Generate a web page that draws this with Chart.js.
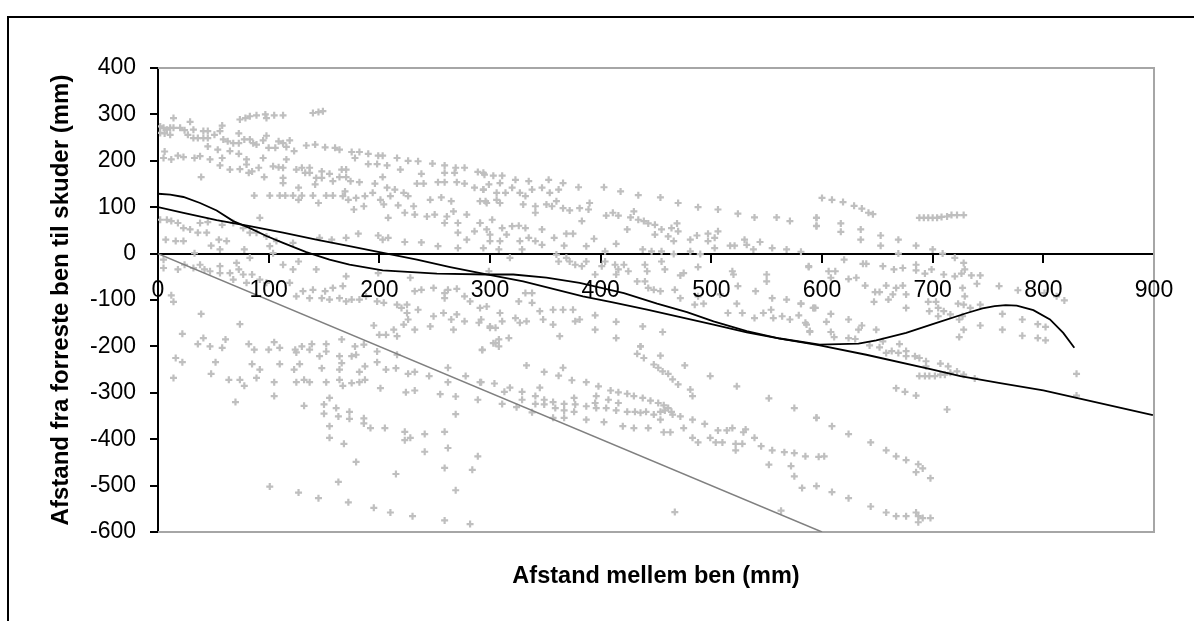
<!DOCTYPE html>
<html>
<head>
<meta charset="utf-8">
<style>
html,body{margin:0;padding:0;background:#fff;}
#wrap{position:relative;width:1194px;height:621px;overflow:hidden;}
#frame{position:absolute;left:7px;top:16px;width:1300px;height:800px;border:2px solid #000;box-sizing:border-box;}
canvas{position:absolute;left:0;top:0;}
</style>
<script src="https://cdn.jsdelivr.net/npm/chart.js@4/dist/chart.umd.min.js"></script>
</head>
<body>
<div id="wrap"><div id="frame"></div><canvas id="c" width="1194" height="621"></canvas></div>
<script>
const xTickLabels=[0,100,200,300,400,500,600,700,800,900];
const yTickLabels=[-600,-500,-400,-300,-200,-100,0,100,200,300,400];
const xAxisName="Afstand mellem ben (mm)";
const yAxisName="Afstand fra forreste ben til skuder (mm)";

const diagonalLine=[[0,0],[600,-600]];
const curveLine=[[0,129],[11,127],[23,122],[38,109],[53,93],[68,70],[83,55],[98,38],[113,23],[134,3],[155,-13],[173,-24],[203,-36],[252,-43],[297,-45],[321,-45],[351,-52],[381,-63],[421,-85],[451,-108],[478,-126],[502,-146],[532,-167],[562,-183],[598,-196],[633,-194],[649,-187],[676,-171],[700,-152],[731,-128],[745,-118],[756,-113],[766,-111],[776,-112],[791,-122],[806,-142],[818,-171],[828,-203]];
const straightLine=[[0,100],[23,88],[53,72],[83,59],[113,45],[143,30],[173,16],[200,3],[234,-13],[264,-29],[297,-45],[330,-60],[384,-92],[411,-105],[442,-121],[472,-137],[502,-153],[532,-170],[562,-183],[598,-198],[640,-218],[700,-250],[725,-264],[761,-279],[800,-295],[851,-322],[899,-348]];

const upperLeftPoints=[[14,292],[29,284],[58,276],[2,274],[5,271],[8,267],[11,271],[14,271],[2,260],[6,259],[11,256],[20,271],[24,266],[32,267],[27,256],[32,249],[36,249],[41,264],[45,264],[41,249],[45,249],[45,231],[51,256],[56,264],[54,224],[59,246],[63,242],[68,238],[73,259],[73,238],[78,246],[83,246],[86,238],[89,235],[98,254],[95,244],[100,228],[106,228],[109,242],[113,238],[119,244],[116,230],[123,221],[134,233],[142,235],[151,229],[160,228],[164,224],[175,219],[182,219],[190,215],[199,211],[203,211],[216,206],[226,200],[235,199],[248,194],[259,190],[269,185],[277,185],[289,176],[295,170],[74,289],[79,292],[83,296],[89,298],[97,300],[98,292],[105,298],[113,298],[140,303],[145,305],[149,307],[6,220],[5,206],[12,203],[18,211],[23,208],[33,206],[38,210],[47,203],[58,206],[56,190],[65,181],[65,221],[74,182],[73,215],[80,203],[80,192],[82,174],[91,185],[85,177],[39,165],[96,165],[95,206],[104,188],[109,186],[113,185],[116,203],[113,163],[113,152],[127,142],[125,181],[130,185],[133,174],[137,185],[137,174],[142,149],[148,177],[143,163],[148,163],[155,172],[158,156],[166,181],[170,181],[164,165],[170,165],[174,156],[182,154],[196,151],[203,165],[207,142],[178,206],[198,193],[190,193],[207,190],[219,181],[238,172],[234,151],[240,151],[253,154],[259,154],[259,174],[268,174],[270,154],[277,151],[286,142],[294,138],[87,125],[101,125],[110,125],[115,125],[122,125],[130,125],[127,116],[140,125],[145,109],[152,125],[158,125],[169,134],[167,124],[172,116],[179,120],[177,95],[186,102],[187,124],[194,131],[201,116],[204,106],[208,77],[210,124],[214,138],[222,131],[226,124],[217,104],[223,88],[231,102],[232,84],[243,80],[250,84],[246,116],[256,121],[265,113],[261,80],[259,66],[267,91],[279,84],[271,66],[271,45],[286,48],[291,66],[297,109],[291,113],[279,30],[2,73],[8,73],[12,70],[18,66],[23,55],[29,52],[38,66],[45,68],[58,62],[36,45],[44,45],[7,30],[16,27],[23,27],[55,30],[62,27],[48,17],[56,9],[68,66],[77,55],[83,45],[89,45],[92,77],[98,37],[107,27],[101,16],[78,9],[83,-9],[104,1],[122,23],[146,34],[157,30],[170,34],[181,43],[199,39],[208,34],[203,30],[223,25],[238,24],[253,16],[271,12],[294,12],[33,1]];

const lowerLeftPoints=[[5,-13],[5,-31],[18,-34],[24,-24],[32,-31],[38,-24],[42,-34],[47,-38],[56,-27],[56,-42],[65,-42],[71,-20],[73,-34],[68,-56],[77,-45],[85,-45],[80,-63],[92,-56],[98,-63],[113,-24],[127,-17],[122,-34],[143,-34],[170,-49],[167,-70],[199,-42],[228,-52],[119,-63],[125,-92],[131,-81],[140,-78],[137,-96],[151,-81],[158,-74],[148,-96],[155,-99],[164,-96],[170,-103],[175,-99],[182,-99],[188,-92],[198,-103],[204,-106],[216,-110],[220,-117],[225,-128],[226,-142],[222,-153],[213,-164],[206,-175],[200,-175],[216,-178],[225,-110],[232,-81],[238,-78],[235,-121],[249,-74],[259,-85],[262,-78],[270,-76],[258,-128],[270,-131],[265,-142],[277,-146],[290,-149],[292,-142],[249,-135],[246,-157],[232,-164],[267,-164],[300,-160],[291,-117],[282,-103],[277,-92],[259,-96],[12,-90],[14,-104],[39,-130],[74,-152],[22,-173],[41,-182],[36,-195],[47,-200],[58,-203],[61,-185],[82,-195],[87,-207],[100,-207],[105,-191],[110,-203],[124,-207],[125,-213],[130,-200],[139,-195],[137,-207],[152,-195],[152,-211],[146,-221],[166,-185],[178,-200],[186,-196],[179,-218],[175,-221],[164,-221],[166,-236],[198,-211],[198,-234],[187,-243],[182,-255],[164,-250],[148,-247],[128,-238],[123,-250],[110,-238],[92,-250],[85,-238],[52,-234],[48,-259],[16,-225],[22,-234],[14,-268],[64,-272],[74,-272],[78,-285],[89,-268],[105,-277],[105,-307],[70,-320],[125,-277],[132,-272],[137,-277],[152,-277],[164,-272],[167,-285],[175,-279],[182,-277],[187,-272],[201,-290],[155,-311],[132,-328],[150,-325],[150,-345],[161,-333],[163,-351],[173,-341],[173,-356],[186,-355],[186,-366],[192,-376],[205,-376],[155,-372],[155,-397],[168,-410],[223,-384],[223,-402],[228,-397],[241,-389],[241,-427],[259,-384],[262,-419],[259,-462],[289,-437],[284,-466],[215,-475],[179,-449],[163,-492],[101,-502],[127,-515],[145,-527],[172,-536],[195,-548],[210,-558],[230,-566],[259,-575],[282,-583],[269,-510],[269,-346],[269,-308],[255,-303],[289,-315],[232,-295],[224,-299],[206,-250],[215,-247],[226,-259],[232,-255],[245,-264],[262,-246],[262,-277],[278,-264],[293,-207],[291,-277],[216,-218],[195,-155]];

const middleUpperPoints=[[294,174],[303,168],[311,168],[309,152],[323,159],[335,156],[353,159],[366,152],[380,143],[403,143],[418,134],[434,126],[454,121],[470,109],[488,100],[506,95],[524,86],[539,78],[559,78],[571,70],[595,77],[299,149],[306,131],[314,131],[320,142],[327,131],[332,124],[338,138],[347,142],[354,131],[362,138],[294,138],[296,113],[306,116],[309,109],[330,106],[341,102],[341,88],[351,106],[356,102],[360,113],[366,98],[372,93],[381,98],[390,109],[389,95],[405,82],[411,88],[416,82],[427,78],[430,91],[434,73],[439,70],[443,65],[424,52],[449,62],[455,52],[464,55],[469,65],[470,48],[449,41],[461,37],[466,27],[481,30],[487,39],[497,43],[497,27],[503,34],[506,48],[503,12],[517,17],[521,17],[530,30],[532,19],[538,9],[544,25],[555,12],[568,9],[581,4],[595,59],[302,73],[383,70],[291,66],[297,52],[300,41],[300,27],[311,55],[308,9],[309,27],[315,41],[320,59],[326,60],[332,55],[327,27],[329,9],[335,34],[341,27],[347,52],[347,19],[358,34],[369,43],[375,43],[367,17],[394,32],[387,16],[414,21],[404,5],[438,9],[446,5],[455,5],[466,-1],[481,5],[490,-1],[318,-9],[360,-2],[362,-17],[369,-9],[372,-17],[377,-24],[383,-27],[387,-17],[404,-17],[401,-27],[395,-45],[413,-24],[416,-34],[421,-24],[425,-38],[414,-45],[433,-60],[440,-24],[442,-38],[455,-17],[458,-34],[440,-60],[443,-74],[448,-78],[454,-81],[467,-78],[472,-47],[488,-29],[475,-42],[472,-96],[485,-110],[493,-108],[488,-92],[508,-88],[519,-38],[520,-45],[524,-70],[523,-108],[515,-128],[528,-128],[540,-81],[550,-45],[550,-60],[555,-96],[568,-99],[581,-108],[539,-139],[547,-128],[554,-121],[556,-139],[564,-135],[571,-142],[579,-133],[585,-149],[589,-167],[592,-117],[588,-27],[594,-117],[299,-38],[326,-103],[332,-85],[338,-85],[338,-106],[345,-124],[348,-142],[357,-121],[357,-153],[366,-121],[375,-121],[377,-146],[381,-142],[395,-133],[395,-164],[414,-147],[438,-157],[456,-169],[414,-182],[436,-200],[363,-178],[305,-160],[311,-146],[300,-157],[323,-139],[327,-149],[333,-146],[309,-128],[297,-114],[308,-185],[317,-182],[303,-193]];

const middleLowerPoints=[[293,-208],[308,-200],[305,-193],[333,-241],[349,-255],[362,-263],[366,-246],[374,-273],[387,-277],[398,-286],[409,-295],[416,-299],[424,-302],[430,-307],[438,-311],[445,-317],[452,-322],[457,-327],[461,-333],[465,-347],[304,-280],[292,-277],[318,-289],[313,-298],[311,-324],[324,-331],[329,-298],[329,-315],[341,-307],[345,-289],[341,-324],[349,-315],[349,-325],[357,-320],[359,-333],[367,-324],[367,-338],[376,-311],[377,-325],[376,-341],[387,-329],[395,-322],[396,-333],[396,-307],[405,-333],[407,-315],[416,-322],[414,-338],[424,-341],[431,-341],[436,-343],[441,-341],[448,-347],[454,-341],[458,-338],[464,-341],[338,-342],[357,-354],[367,-354],[387,-358],[403,-363],[420,-372],[430,-376],[443,-376],[457,-385],[463,-385],[454,-358],[472,-351],[483,-358],[475,-376],[494,-367],[483,-397],[488,-407],[499,-397],[504,-407],[510,-407],[506,-381],[514,-381],[519,-376],[529,-385],[531,-379],[539,-397],[545,-415],[522,-410],[528,-410],[522,-424],[555,-424],[566,-428],[575,-430],[585,-437],[597,-438],[602,-437],[552,-455],[572,-458],[575,-480],[582,-505],[595,-501],[467,-557],[563,-554],[433,-216],[439,-225],[436,-200],[448,-239],[452,-246],[456,-254],[461,-259],[465,-271],[470,-282],[454,-220],[476,-241],[481,-293],[483,-307],[499,-264],[523,-286],[552,-312],[575,-333],[595,-354]];

const rightPoints=[[600,120],[609,116],[619,111],[629,103],[636,97],[642,88],[646,85],[595,77],[595,60],[617,65],[617,47],[635,52],[635,30],[653,39],[653,17],[669,30],[685,17],[700,9],[709,0],[669,0],[720,-9],[688,77],[692,77],[696,77],[700,77],[704,77],[708,79],[713,80],[717,83],[722,83],[728,83],[620,-13],[588,-29],[637,-22],[640,-22],[655,-27],[606,-38],[612,-38],[608,-52],[665,-34],[673,-31],[685,-24],[685,-36],[693,-43],[699,-34],[710,-45],[720,-49],[726,-43],[728,-20],[729,-34],[735,-47],[743,-47],[740,-65],[727,-74],[624,-55],[631,-52],[639,-69],[648,-83],[652,-83],[658,-69],[667,-74],[673,-69],[664,-88],[676,-88],[660,-99],[647,-104],[676,-117],[696,-104],[703,-104],[729,-92],[760,-70],[777,-79],[801,-85],[812,-92],[819,-101],[723,-108],[697,-124],[705,-117],[710,-124],[705,-135],[716,-131],[728,-110],[734,-117],[743,-110],[727,-135],[724,-142],[743,-155],[763,-130],[763,-164],[781,-142],[781,-177],[795,-152],[802,-158],[795,-182],[802,-187],[728,-164],[724,-180],[593,-117],[581,-108],[608,-130],[604,-147],[624,-142],[636,-155],[633,-164],[649,-164],[586,-153],[589,-169],[608,-169],[611,-180],[624,-182],[630,-184],[643,-198],[652,-202],[655,-189],[670,-195],[658,-214],[663,-210],[669,-214],[676,-210],[676,-221],[684,-221],[688,-225],[694,-232],[694,-243],[707,-237],[714,-243],[688,-264],[693,-264],[697,-264],[702,-264],[707,-261],[711,-261],[716,-257],[722,-254],[728,-261],[738,-269],[830,-259],[830,-306],[667,-290],[675,-298],[685,-306],[713,-336],[595,-354],[609,-372],[624,-389],[644,-407],[658,-424],[667,-437],[676,-445],[687,-454],[691,-463],[685,-471],[698,-484],[609,-514],[624,-527],[644,-545],[658,-558],[667,-566],[676,-566],[685,-558],[687,-566],[691,-570],[687,-579],[698,-570]];

const toXY=a=>a.map(p=>({x:p[0],y:p[1]}));
const tickFont={family:'"Liberation Sans"',size:23};
const xTitleFont={family:'"Liberation Sans"',size:23.5,weight:'bold'};
const yTitleFont={family:'"Liberation Sans"',size:24,weight:'bold'};

const plotFrame={id:'plotFrame',beforeDatasetsDraw(chart){
  const a=chart.chartArea,g=chart.ctx;
  g.save();g.strokeStyle='#a6a6a6';g.lineWidth=2;
  g.beginPath();g.moveTo(a.left,a.top);g.lineTo(a.right,a.top);g.lineTo(a.right,a.bottom);g.lineTo(a.left,a.bottom);g.stroke();
  g.restore();
}};

new Chart(document.getElementById('c'),{
  type:'scatter',
  data:{datasets:[
    {data:toXY(upperLeftPoints.concat(lowerLeftPoints,middleUpperPoints,middleLowerPoints,rightPoints)),order:5,pointStyle:'cross',pointRadius:3.5,borderColor:'#bfbfbf',backgroundColor:'#bfbfbf',pointBorderWidth:2.2},
    {data:toXY(diagonalLine),order:4,showLine:true,pointRadius:0,borderColor:'#808080',borderWidth:1.5},
    {data:toXY(straightLine),order:2,showLine:true,pointRadius:0,borderColor:'#000',borderWidth:1.8},
    {data:toXY(curveLine),order:1,showLine:true,pointRadius:0,borderColor:'#000',borderWidth:1.8}
  ]},
  plugins:[plotFrame],
  options:{
    responsive:false,animation:false,
    layout:{autoPadding:false,padding:{left:0,top:68,right:40,bottom:89}},
    plugins:{legend:{display:false},tooltip:{enabled:false}},
    scales:{
      x:{type:'linear',position:{y:0},min:0,max:900,
        afterBuildTicks(s){s.ticks=xTickLabels.map(v=>({value:v}));},
        afterFit(s){s.height=337;},
        grid:{drawOnChartArea:false,color:'#000',tickColor:'#000',tickLength:8,lineWidth:2},
        border:{color:'#000',width:2},
        ticks:{color:'#000',font:tickFont,padding:15,autoSkip:false,maxRotation:0,z:1},
        title:{display:true,text:xAxisName,color:'#000',font:xTitleFont,padding:{top:0,bottom:0}}
      },
      y:{type:'linear',min:-600,max:400,
        afterBuildTicks(s){s.ticks=yTickLabels.map(v=>({value:v}));},
        afterFit(s){s.width=158;},
        grid:{drawOnChartArea:false,color:'#000',tickColor:'#000',tickLength:8,lineWidth:2},
        border:{color:'#000',width:2},
        ticks:{color:'#000',font:tickFont,padding:14,autoSkip:false,z:1},
        title:{display:true,text:yAxisName,color:'#000',font:yTitleFont,padding:{top:47,bottom:0}}
      }
    }
  }
});
</script>
</body>
</html>
